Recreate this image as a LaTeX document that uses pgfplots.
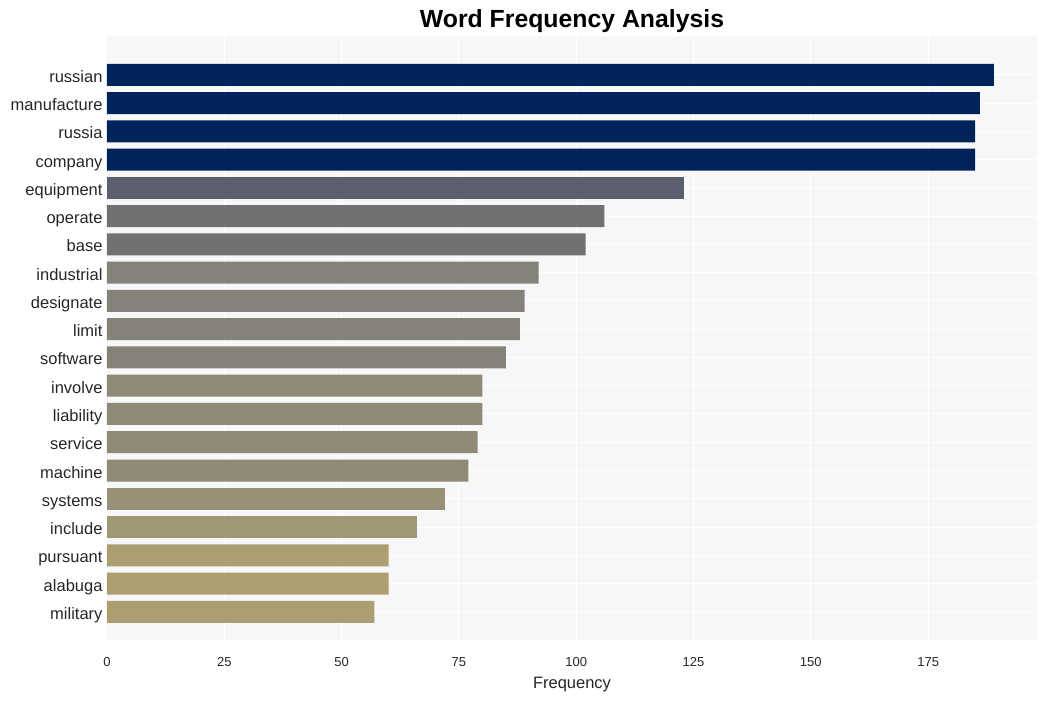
\documentclass[border=0pt]{standalone}
\usepackage{fontspec}
\setmainfont{Liberation Sans}
\usepackage{pgfplots}
\pgfplotsset{compat=1.18}

\definecolor{bgc}{HTML}{F7F7F7}
\definecolor{txt}{HTML}{262626}
\definecolor{c1}{HTML}{00235A}
\definecolor{c2}{HTML}{5C5F6E}
\definecolor{c3}{HTML}{717174}
\definecolor{c4}{HTML}{858279}
\definecolor{c5}{HTML}{8F8A77}
\definecolor{c6}{HTML}{999175}
\definecolor{c7}{HTML}{A09774}
\definecolor{c8}{HTML}{AB9F72}

\begin{document}
\begin{tikzpicture}
\useasboundingbox (-107pt,-61pt) rectangle (940pt,640pt);
\begin{axis}[
  scale only axis,
  width=930pt, height=604pt,
  xmin=0, xmax=198.2,
  ymin=-1.38, ymax=20.0,
  y dir=reverse,
  xbar, bar shift=0pt, bar width=22pt,
  axis background/.style={fill=bgc},
  axis line style={draw=none},
  major tick length=0pt,
  xtick={0,25,...,175},
  ytick={0,...,19},
  yticklabels={russian,manufacture,russia,company,equipment,operate,base,industrial,designate,limit,software,involve,liability,service,machine,systems,include,pursuant,alabuga,military},
  xmajorgrids, ymajorgrids,
  grid style={white, line width=1pt},
  /pgf/number format/assume math mode=true,
  xticklabel style={font=\fontsize{13}{15}\selectfont, text=txt, yshift=-14pt},
  yticklabel style={font=\fontsize{16.5}{18}\selectfont, text=txt, text height=11pt, text depth=3pt, xshift=-1pt, yshift=-3.5pt},
  xlabel={Frequency},
  xlabel style={font=\fontsize{16.5}{18}\selectfont, text=txt, yshift=-4pt},
  title={Word Frequency Analysis},
  title style={font=\bfseries\fontsize{24.8}{28}\selectfont, anchor=base, at={(0.5,1)}, yshift=3pt},
]
\addplot[fill=c1, draw=none] coordinates {(189,0) (186,1) (185,2) (185,3)};
\addplot[fill=c2, draw=none] coordinates {(123,4)};
\addplot[fill=c3, draw=none] coordinates {(106,5) (102,6)};
\addplot[fill=c4, draw=none] coordinates {(92,7) (89,8) (88,9) (85,10)};
\addplot[fill=c5, draw=none] coordinates {(80,11) (80,12) (79,13) (77,14)};
\addplot[fill=c6, draw=none] coordinates {(72,15)};
\addplot[fill=c7, draw=none] coordinates {(66,16)};
\addplot[fill=c8, draw=none] coordinates {(60,17) (60,18) (57,19)};
\end{axis}
\end{tikzpicture}
\end{document}
